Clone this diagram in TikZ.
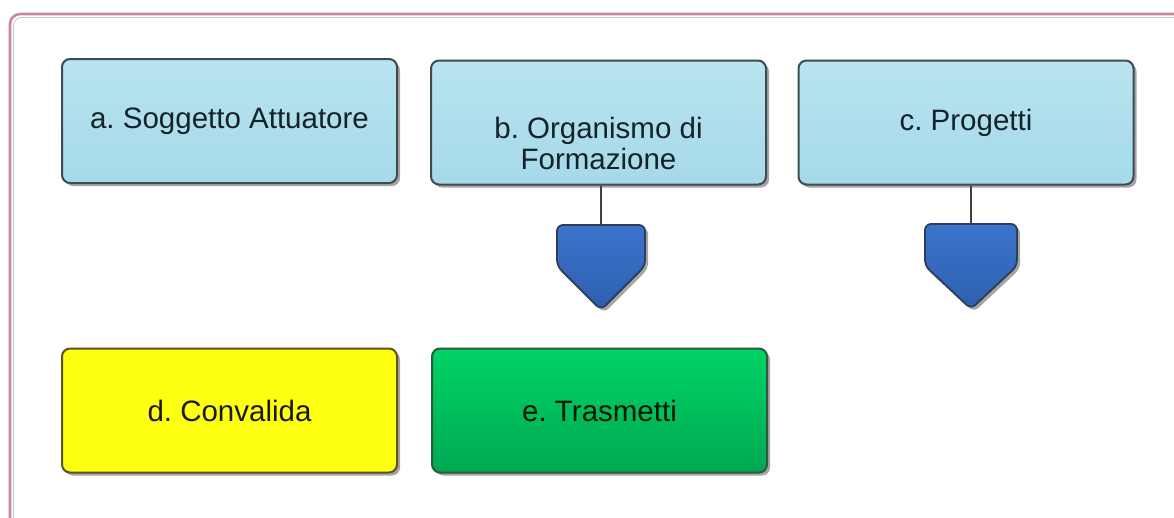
\documentclass[tikz,border=0pt]{standalone}
\usepackage{fontspec}
\setmainfont{Liberation Sans}
\frenchspacing
\usetikzlibrary{shadows}
\definecolor{frpink}{HTML}{C98A96}
\definecolor{frgrey}{HTML}{C8C8C8}
\definecolor{lbtop}{HTML}{B8E4F0}
\definecolor{lbbot}{HTML}{A6D9E9}
\definecolor{lbdraw}{HTML}{3E4C52}
\definecolor{ytop}{HTML}{FFFF10}
\definecolor{ydraw}{HTML}{5C5420}
\definecolor{gtop}{HTML}{00D466}
\definecolor{gbot}{HTML}{00A852}
\definecolor{gdraw}{HTML}{2B5A3C}
\definecolor{btop}{HTML}{3C74CC}
\definecolor{bbot}{HTML}{2D5FAE}
\definecolor{bdraw}{HTML}{2E3E5A}
\definecolor{txtdark}{HTML}{15222A}
\tikzset{
  card/.style={rectangle, rounded corners=8pt, line width=2pt,
    minimum width=335pt, minimum height=124pt, inner sep=0pt,
    font=\fontsize{29.5}{31}\selectfont, align=center,
    drop shadow={shadow xshift=3pt, shadow yshift=-3pt, fill=black!50, opacity=0.7}},
  bluecard/.style={card, draw=lbdraw, top color=lbtop, bottom color=lbbot, text=txtdark},
  yellowcard/.style={card, draw=ydraw, fill=ytop, text=black!90},
  greencard/.style={card, draw=gdraw, top color=gtop, bottom color=gbot, text=black!85!green!60!black},
  label/.style={inner sep=0pt, font=\fontsize{29.5}{31}\selectfont, align=center, text=txtdark},
  pentagon/.style={draw=bdraw, line width=1.8pt, top color=btop, bottom color=bbot, rounded corners=6pt,
    drop shadow={shadow xshift=3pt, shadow yshift=-3pt, fill=black!50, opacity=0.7}},
  link/.style={draw=black!75, line width=1.6pt}
}
\begin{document}
\begin{tikzpicture}[x=1pt,y=-1pt]
\useasboundingbox (0,0) rectangle (1174,517);
\fill[white] (0,0) rectangle (1174,517);
% outer frame
\begin{scope}
\clip (0,0) rectangle (1174,517);
\draw[frpink, line width=2.6pt, rounded corners=10pt] (10,14) rectangle (1200,540);
\draw[frgrey, line width=0.8pt, rounded corners=8pt] (13.5,17.5) rectangle (1196,536);
\end{scope}
% top row
\node[bluecard] (a) at (229.5,121) {a. Soggetto Attuatore};
\node[bluecard] (b) at (598.5,122.5) {};
\node[label] (bt) at (598.5,143) {b. Organismo di\\Formazione};
\node[bluecard] (c) at (966,122.5) {c. Progetti};
% bottom row
\node[yellowcard] (d) at (229.5,410.5) {d. Convalida};
\node[greencard] (e) at (599.5,410.5) {e. Trasmetti};
% pentagon markers
\path[pentagon] (557,225) -- (645,225) -- (645,266) -- (601,310) -- (557,266) -- cycle;
\coordinate (pb) at (601,225);
\path[pentagon] (925,224) -- (1017,224) -- (1017,266) -- (971,309) -- (925,266) -- cycle;
\coordinate (pc) at (971,224);
\draw[link] (b.south -| pb) -- (pb);
\draw[link] (c.south -| pc) -- (pc);
\end{tikzpicture}
\end{document}
